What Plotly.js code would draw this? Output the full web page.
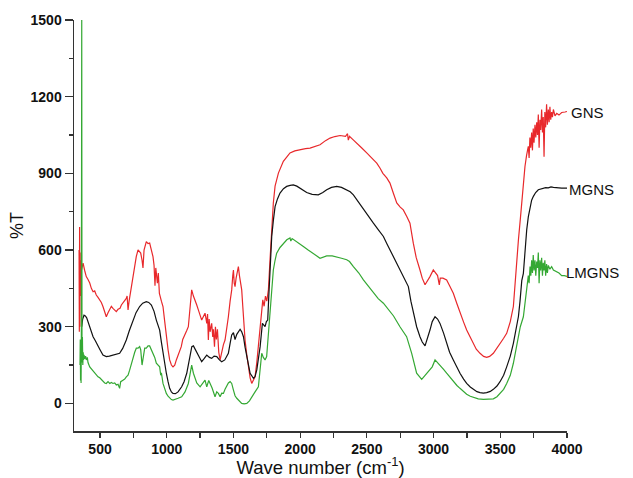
<!DOCTYPE html>
<html>
<head>
<meta charset="utf-8">
<script src="https://cdn.plot.ly/plotly-3.0.1.min.js"></script>
<style>html,body{margin:0;padding:0;background:#fff;}#chart{width:633px;height:478px;}</style>
</head>
<body>
<div id="chart"></div>
<script>
// GNS (red)
const gnsX = [343,345,347,349,351,353,356,360,373,385,397,410,423,435,448,460,472,485,498,510,522,535,547,560,573,585,597,610,622,635,650,660,672,685,697,703,710,718,735,748,760,772,785,797,805,815,822,830,847,860,872,885,897,905,912,918,922,930,937,945,960,972,985,997,1010,1022,1035,1047,1060,1072,1085,1100,1109,1120,1137,1150,1162,1175,1187,1200,1212,1225,1237,1250,1262,1275,1287,1295,1300,1306,1312,1318,1325,1337,1345,1350,1358,1365,1372,1380,1390,1400,1410,1425,1437,1450,1462,1475,1487,1495,1500,1506,1512,1520,1530,1537,1545,1552,1562,1570,1575,1587,1600,1612,1625,1637,1650,1662,1675,1687,1700,1712,1720,1730,1740,1750,1762,1774,1787,1799,1812,1837,1874,1900,1924,1960,1999,2040,2074,2110,2149,2190,2224,2260,2299,2340,2355,2361,2370,2400,2424,2460,2499,2540,2574,2598,2620,2649,2673,2700,2724,2750,2773,2800,2823,2848,2870,2898,2915,2936,2955,2973,2998,3010,3020,3030,3043,3050,3070,3098,3120,3148,3175,3198,3225,3248,3275,3298,3320,3348,3375,3398,3420,3448,3475,3498,3525,3548,3575,3598,3610,3625,3636,3650,3661,3673,3685,3697,3710,3716,3722,3728,3735,3741,3747,3753,3760,3766,3773,3779,3785,3791,3797,3803,3810,3816,3822,3828,3834,3840,3847,3853,3860,3866,3872,3878,3885,3891,3898,3910,3923,3940,3960,3985,4000];
const gnsY = [600,280,690,300,590,420,560,520,549,520,496,485,471,450,437,440,424,415,405,395,379,360,339,355,366,380,372,365,359,368,372,385,392,400,411,420,366,400,457,500,549,575,601,595,588,560,530,600,633,625,627,600,574,540,460,530,509,470,510,430,400,379,320,261,210,170,150,143,150,170,190,209,222,250,274,285,300,380,444,420,405,385,366,345,326,340,353,330,313,350,248,330,280,313,260,290,222,300,250,290,200,170,200,230,248,290,339,400,444,500,522,470,457,490,520,535,500,470,444,380,339,248,190,143,100,78,90,104,160,222,300,353,405,380,420,400,444,560,680,784,850,901,947,965,980,988,993,997,999,1005,1012,1028,1038,1044,1048,1045,1055,1030,1045,1030,1019,1000,980,960,940,921,900,882,862,820,784,768,757,730,705,627,570,522,490,464,480,496,522,515,509,500,464,490,490,483,460,431,390,353,318,287,258,235,212,196,184,180,184,196,215,235,255,274,320,379,470,560,640,720,797,870,927,970,1006,960,1040,1000,1060,990,1075,1020,1090,1040,1100,1050,1130,1000,1110,1070,1150,1060,1120,965,1140,1080,1170,1090,1150,1100,1160,1110,1140,1120,1150,1125,1135,1128,1138,1140,1142];

// MGNS (black)
const mgnsX = [363,370,380,390,400,423,435,448,465,485,500,522,547,570,597,620,647,670,697,720,747,770,797,820,847,865,885,905,922,935,947,960,972,985,997,1010,1022,1035,1047,1065,1085,1112,1130,1150,1162,1175,1188,1200,1215,1237,1250,1262,1280,1300,1320,1337,1355,1375,1395,1412,1435,1462,1475,1487,1500,1512,1525,1550,1562,1575,1587,1600,1612,1625,1650,1662,1675,1687,1700,1717,1727,1737,1747,1757,1765,1774,1787,1799,1812,1830,1849,1875,1899,1925,1949,1975,1999,2025,2049,2090,2136,2170,2199,2235,2274,2310,2349,2375,2399,2440,2474,2510,2549,2585,2624,2650,2673,2700,2724,2750,2773,2790,2811,2830,2848,2873,2898,2915,2936,2955,2973,2990,3011,3030,3048,3075,3098,3120,3148,3175,3198,3225,3248,3275,3298,3325,3348,3373,3398,3425,3448,3475,3498,3525,3548,3575,3598,3615,3636,3648,3661,3673,3685,3698,3710,3723,3735,3748,3765,3785,3805,3822,3840,3860,3880,3898,3930,3960,4000];
const mgnsY = [300,330,345,342,335,300,280,261,245,228,210,189,183,185,189,192,196,215,248,285,326,355,379,392,398,395,385,360,326,305,287,240,196,155,118,85,59,45,39,38,45,65,85,118,150,196,222,225,210,183,170,163,175,189,180,176,185,183,170,163,170,196,235,268,277,250,270,290,280,261,220,183,150,118,98,105,131,170,222,313,305,300,320,326,420,509,653,715,770,800,823,840,849,853,855,850,842,832,825,818,816,825,836,845,849,845,836,828,816,785,757,730,705,680,653,625,601,575,549,525,503,485,457,400,353,300,261,240,225,255,287,320,339,330,313,275,235,200,170,140,118,95,78,64,55,46,42,40,42,47,55,68,85,110,143,185,235,280,340,400,480,509,600,679,730,770,795,810,825,836,840,842,844,843,847,845,843,842,842];

// LMGNS (green)
const lmgnsX = [350,352,354,356,358,360,363,365,368,371,374,377,380,385,392,397,405,410,423,435,448,460,472,485,498,510,522,535,547,560,573,585,597,610,622,635,647,655,672,685,697,710,722,735,748,760,772,785,797,805,815,822,835,847,860,872,885,897,910,922,935,947,955,960,972,985,997,1010,1022,1035,1047,1065,1085,1112,1137,1162,1175,1187,1200,1212,1225,1250,1270,1287,1300,1315,1325,1340,1362,1375,1387,1400,1412,1425,1437,1450,1462,1475,1487,1500,1512,1525,1537,1550,1562,1580,1600,1620,1637,1662,1687,1699,1712,1724,1737,1749,1762,1774,1787,1799,1812,1824,1849,1874,1900,1924,1930,1940,1974,2000,2024,2060,2099,2125,2149,2175,2199,2240,2274,2310,2349,2370,2399,2440,2474,2510,2549,2585,2624,2648,2673,2700,2748,2798,2836,2873,2911,2936,2961,2990,3011,3030,3048,3075,3098,3125,3148,3175,3198,3225,3248,3275,3298,3335,3373,3410,3448,3475,3498,3525,3548,3575,3598,3620,3636,3650,3673,3685,3698,3710,3716,3723,3729,3735,3741,3747,3753,3760,3766,3773,3779,3785,3791,3797,3803,3810,3816,3822,3828,3834,3840,3847,3853,3860,3872,3885,3898,3920,3940,3960,3980,4000];
const lmgnsY = [150,250,90,200,80,230,1500,160,260,150,200,170,190,175,185,170,180,160,143,135,130,120,110,104,100,92,85,80,78,85,78,82,78,80,72,75,59,85,91,95,104,110,130,157,180,200,216,216,222,210,150,170,216,216,225,225,210,196,180,157,150,143,110,120,78,55,39,28,20,15,13,15,20,26,45,78,110,150,118,100,80,65,80,91,65,90,78,60,26,45,39,26,40,39,55,70,80,85,78,52,30,20,13,5,0,-2,0,10,26,45,65,143,196,180,170,183,274,326,444,522,560,588,610,627,640,647,635,645,633,625,614,600,588,577,568,572,577,577,574,568,562,555,535,510,483,458,431,410,392,375,359,342,300,261,196,118,94,110,124,143,170,160,150,133,118,100,85,70,59,46,36,28,23,18,16,16,18,26,39,55,78,110,157,220,261,300,339,390,444,500,470,535,500,560,510,580,520,560,500,555,530,590,470,560,520,570,500,550,520,560,500,545,510,540,525,535,522,515,510,500,500,497];

const xTickVals = [500,1000,1500,2000,2500,3000,3500,4000];
const yTickVals = [0,300,600,900,1200,1500];
const seriesNames = ['GNS','MGNS','LMGNS'];

const fam = 'Liberation Sans';

const traces = [
  {x:gnsX, y:gnsY, name:seriesNames[0], mode:'lines', line:{color:'#e8282b', width:1.2}},
  {x:mgnsX, y:mgnsY, name:seriesNames[1], mode:'lines', line:{color:'#111111', width:1.2}},
  {x:lmgnsX, y:lmgnsY, name:seriesNames[2], mode:'lines', line:{color:'#34a833', width:1.2}}
];

const layout = {
  width:633, height:478,
  margin:{l:74, r:66, t:20, b:47},
  paper_bgcolor:'#fff', plot_bgcolor:'#fff',
  showlegend:false,
  xaxis:{
    range:[305,4000], tickvals:xTickVals,
    showgrid:false, zeroline:false, showline:true, linecolor:'#333', linewidth:1.5,
    ticks:'outside', ticklen:5, tickwidth:1.2, tickcolor:'#333',
    minor:{dtick:250, tick0:250, ticks:'outside', ticklen:5, tickwidth:1.2, tickcolor:'#333', showgrid:false},
    tickfont:{family:fam, size:14, color:'#111', weight:'bold'},
    title:{text:'Wave number (cm<sup>-1</sup>)', font:{family:fam, size:18.5, color:'#111'}, standoff:2}
  },
  yaxis:{
    range:[-108,1500], tickvals:yTickVals,
    showgrid:false, zeroline:false, showline:true, linecolor:'#333', linewidth:1.5,
    ticks:'outside', ticklen:8, tickwidth:1.2, tickcolor:'#333',
    minor:{dtick:150, tick0:0, ticks:'outside', ticklen:4, tickwidth:1.2, tickcolor:'#333', showgrid:false},
    tickfont:{family:fam, size:14, color:'#111', weight:'bold'},
    title:{text:'%T', font:{family:fam, size:18, color:'#111'}, standoff:2}
  },
  annotations:[
    {xref:'paper', x:1, yref:'y', y:1140, text:seriesNames[0], showarrow:false, xanchor:'left', xshift:2, font:{family:fam, size:15, color:'#111'}},
    {xref:'paper', x:1, yref:'y', y:835, text:seriesNames[1], showarrow:false, xanchor:'left', xshift:0, font:{family:fam, size:15, color:'#111'}},
    {xref:'paper', x:1, yref:'y', y:514, text:seriesNames[2], showarrow:false, xanchor:'left', xshift:-3, font:{family:fam, size:15, color:'#111'}}
  ]
};

Plotly.newPlot('chart', traces, layout, {displayModeBar:false, staticPlot:true});
</script>
</body>
</html>
